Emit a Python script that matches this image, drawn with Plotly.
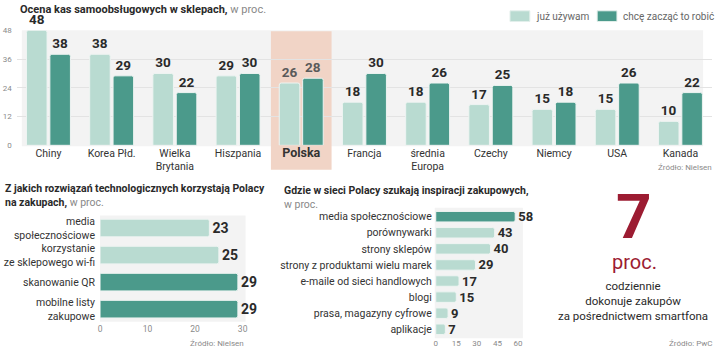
import plotly.graph_objects as go

W, H = 720, 354


def px(x):
    return x / W


def py(y):
    return 1 - y / H


# ---------------- data ----------------
countries = ["Chiny", "Korea Płd.", "Wielka<br>Brytania", "Hiszpania", "Polska", "Francja",
             "średnia<br>Europa", "Czechy", "Niemcy", "USA", "Kanada"]
already_use = [48, 38, 30, 29, 26, 18, 18, 17, 15, 15, 10]
want_start = [38, 29, 22, 30, 28, 30, 26, 25, 18, 26, 22]
series_names = ["już używam", "chcę zacząć to robić"]
highlight = "Polska"

tech_labels = ["media<br>społecznościowe", "korzystanie<br>ze sklepowego wi-fi",
               "skanowanie QR", "mobilne listy<br>zakupowe"]
tech_values = [23, 25, 29, 29]
tech_dark = [False, False, True, True]

insp_labels = ["media społecznościowe", "porównywarki", "strony sklepów",
               "strony z produktami wielu marek", "e-maile od sieci handlowych", "blogi",
               "prasa, magazyny cyfrowe", "aplikacje"]
insp_values = [58, 43, 40, 29, 17, 15, 9, 7]
insp_dark = [True, False, False, False, False, False, False, False]

top_yticks = [0, 12, 24, 36, 48]
tech_xticks = [0, 10, 20, 30]
insp_xticks = [0, 15, 30, 45, 60]

# ---------------- style ----------------
LIGHT = "#b9dbd1"
DARK = "#4b9a8b"
HL = "#f1d4c6"
BG = "#f3f3f3"
RED = "#9c1c32"
TXT = "#2a2a2a"
GREY = "#8a8a8a"
FONT = "Roboto, sans-serif"
BAR_LINE = dict(color="#eef4f2", width=1)

fig = go.Figure()

val_colors = ["#5a5a5a" if c == highlight else TXT for c in countries]

fig.add_trace(go.Bar(
    x=countries, y=already_use, name=series_names[0], marker=dict(color=LIGHT, line=BAR_LINE, cornerradius=2),
    text=already_use, textposition="outside", cliponaxis=False, constraintext="none",
    textfont=dict(family=FONT, size=13.5, color=val_colors, weight="bold"),
    xaxis="x", yaxis="y", hoverinfo="skip"))
fig.add_trace(go.Bar(
    x=countries, y=want_start, name=series_names[1], marker=dict(color=DARK, line=BAR_LINE, cornerradius=2),
    text=want_start, textposition="outside", cliponaxis=False, constraintext="none",
    textfont=dict(family=FONT, size=13.5, color=val_colors, weight="bold"),
    xaxis="x", yaxis="y", hoverinfo="skip"))

fig.add_trace(go.Bar(
    y=tech_labels, x=tech_values, orientation="h",
    marker=dict(color=[DARK if d else LIGHT for d in tech_dark], line=BAR_LINE, cornerradius=2),
    text=tech_values, textposition="outside", cliponaxis=False, constraintext="none",
    textfont=dict(family=FONT, size=14, color=TXT, weight="bold"),
    xaxis="x2", yaxis="y2", hoverinfo="skip"))

fig.add_trace(go.Bar(
    y=insp_labels, x=insp_values, orientation="h",
    marker=dict(color=[DARK if d else LIGHT for d in insp_dark], line=BAR_LINE, cornerradius=2),
    text=insp_values, textposition="outside", cliponaxis=False, constraintext="none",
    textfont=dict(family=FONT, size=13, color=TXT, weight="bold"),
    xaxis="x3", yaxis="y3", hoverinfo="skip"))

ticktext_top = ["<b><span style='font-size:12.5px'>%s</span></b>" % c if c == highlight else c
                for c in countries]
hl_idx = countries.index(highlight)

shapes = [
    dict(type="rect", xref="paper", yref="paper", x0=px(20), x1=px(708), y0=py(146), y1=py(27),
         fillcolor=BG, line_width=0, layer="below"),
    dict(type="rect", xref="x", yref="paper", x0=hl_idx - 0.48, x1=hl_idx + 0.48, y0=py(170), y1=py(28),
         fillcolor=HL, line_width=0, layer="below"),
    dict(type="rect", xref="paper", yref="paper", x0=px(99), x1=px(246), y0=py(326), y1=py(217),
         fillcolor=BG, line_width=0, layer="below"),
    dict(type="rect", xref="paper", yref="paper", x0=px(437), x1=px(526), y0=py(343), y1=py(209),
         fillcolor=BG, line_width=0, layer="below"),
    # legend swatches
    dict(type="rect", xref="paper", yref="paper", x0=px(513), x1=px(533), y0=py(18), y1=py(7),
         fillcolor=LIGHT, line=dict(color="#e3efeb", width=1)),
    dict(type="rect", xref="paper", yref="paper", x0=px(601), x1=px(621), y0=py(18), y1=py(7),
         fillcolor=DARK, line=dict(color="#e3efeb", width=1)),
]

annotations = [
    dict(x=px(16), y=py(6), xref="paper", yref="paper", xanchor="left", yanchor="middle", showarrow=False,
         text="<b>Ocena kas samoobsługowych w sklepach,</b> <span style='color:#888'>w proc.</span>",
         font=dict(family=FONT, size=11, color=TXT)),
    dict(x=px(537), y=py(12.5), xref="paper", yref="paper", xanchor="left", yanchor="middle", showarrow=False,
         text=series_names[0], font=dict(family=FONT, size=10, color="#666")),
    dict(x=px(625), y=py(12.5), xref="paper", yref="paper", xanchor="left", yanchor="middle", showarrow=False,
         text=series_names[1], font=dict(family=FONT, size=10, color="#666")),
    dict(x=px(719), y=py(168), xref="paper", yref="paper", xanchor="right", yanchor="middle", showarrow=False,
         text="Źródło: Nielsen", font=dict(family=FONT, size=8, color=GREY)),
    dict(x=px(1), y=py(197), xref="paper", yref="paper", xanchor="left", yanchor="middle", showarrow=False,
         align="left",
         text="<b>Z jakich rozwiązań technologicznych korzystają Polacy<br>na zakupach,</b> <span style='color:#888'>w proc.</span>",
         font=dict(family=FONT, size=10.5, color=TXT)),
    dict(x=px(246), y=py(348), xref="paper", yref="paper", xanchor="right", yanchor="middle", showarrow=False,
         text="Źródło: Nielsen", font=dict(family=FONT, size=8, color=GREY)),
    dict(x=px(283), y=py(199), xref="paper", yref="paper", xanchor="left", yanchor="middle", showarrow=False,
         align="left",
         text="<b>Gdzie w sieci Polacy szukają inspiracji zakupowych,</b><br><span style='color:#888'>w proc.</span>",
         font=dict(family=FONT, size=10.5, color=TXT)),
    dict(x=px(638), y=py(218), xref="paper", yref="paper", xanchor="center", yanchor="middle", showarrow=False,
         text="<b>7</b>", font=dict(family=FONT, size=62, color=RED)),
    dict(x=px(639), y=py(265), xref="paper", yref="paper", xanchor="center", yanchor="middle", showarrow=False,
         text="proc.", font=dict(family=FONT, size=20, color=RED)),
    dict(x=px(637), y=py(305), xref="paper", yref="paper", xanchor="center", yanchor="middle", showarrow=False,
         text="codziennie<br>dokonuje zakupów<br>za pośrednictwem smartfona",
         font=dict(family=FONT, size=11.5, color=TXT)),
    dict(x=px(719), y=py(348), xref="paper", yref="paper", xanchor="right", yanchor="middle", showarrow=False,
         text="Źródło: PwC", font=dict(family=FONT, size=8, color=GREY)),
]

fig.update_layout(
    width=W, height=H, margin=dict(l=0, r=0, t=0, b=0),
    paper_bgcolor="white", plot_bgcolor="rgba(0,0,0,0)",
    barmode="group", bargap=0.26, bargroupgap=0.12,
    font=dict(family=FONT, color=TXT),
    showlegend=False,
    shapes=shapes, annotations=annotations,
    xaxis=dict(domain=[px(15), px(717)], anchor="y", type="category",
               tickvals=countries, ticktext=ticktext_top, showgrid=False, zeroline=False,
               tickfont=dict(family=FONT, size=10.5, color="#333"), ticks="", fixedrange=True),
    yaxis=dict(domain=[py(145), py(27)], anchor="x", range=[0, 48], tickvals=top_yticks,
               showgrid=True, gridcolor="#e3e3e3", gridwidth=1, zeroline=False,
               tickfont=dict(family=FONT, size=8, color=GREY), ticks="", ticklabelstandoff=4),
    xaxis2=dict(domain=[px(99), px(243)], anchor="y2", range=[0, 30], tickvals=tech_xticks,
                showgrid=False, zeroline=False, tickfont=dict(family=FONT, size=8.5, color=GREY), ticks=""),
    yaxis2=dict(domain=[py(327), py(216)], anchor="x2", type="category", autorange="reversed",
                showgrid=False, tickfont=dict(family=FONT, size=10.5, color="#333"), ticks="",
                ticklabelstandoff=4),
    xaxis3=dict(domain=[px(438), px(521)], anchor="y3", range=[0, 60], tickvals=insp_xticks,
                showgrid=False, zeroline=False, tickfont=dict(family=FONT, size=8, color=GREY), ticks=""),
    yaxis3=dict(domain=[py(342), py(210)], anchor="x3", type="category", autorange="reversed",
                showgrid=False, tickfont=dict(family=FONT, size=10.5, color="#333"), ticks="",
                ticklabelstandoff=3),
)

fig.write_html("out.html")
